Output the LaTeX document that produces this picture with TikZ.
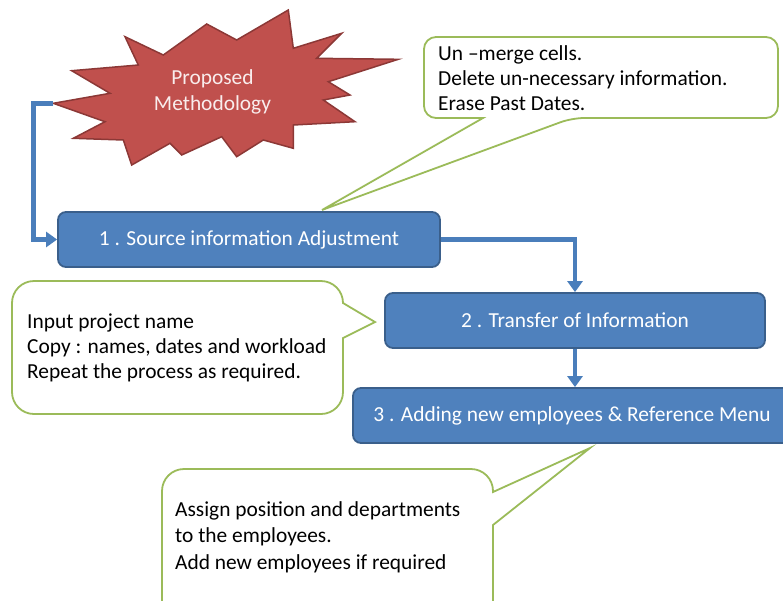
\documentclass[tikz,border=0pt]{standalone}
\usepackage{fontspec}
\setmainfont{Carlito}
\usetikzlibrary{arrows.meta}
\definecolor{boxblue}{HTML}{4F81BD}
\definecolor{boxedge}{HTML}{3A5F8B}
\definecolor{linkblue}{HTML}{4A7EBB}
\definecolor{starred}{HTML}{C0504D}
\definecolor{staredge}{HTML}{8C3836}
\definecolor{notegreen}{HTML}{9BBB59}
\definecolor{startext}{HTML}{F9EDED}

\begin{document}
\begin{tikzpicture}[x=1pt,y=-1pt,
  stepbox/.style={draw=boxedge, line width=1.8pt, fill=boxblue, rounded corners=8pt,
    text=white, font=\fontsize{21.4}{25}\selectfont, inner sep=0pt, minimum height=55pt},
  link/.style={draw=linkblue, line width=4.5pt, -{Triangle[width=15pt,length=11pt]}},
  note/.style={draw=notegreen, line width=1.8pt, fill=white},
  notetext/.style={anchor=west, align=left, inner sep=0pt, font=\fontsize{21.4}{25}\selectfont},
  burst/.style={draw=staredge, line width=1.5pt, fill=starred, line join=miter}]

\useasboundingbox (0,0) rectangle (783,600);
\clip (0,0) rectangle (783,600);

% explosion shape
\draw[burst] (53.3,103.3) -- (110,93.3) -- (71.7,70.7) -- (138.3,65) -- (125,36.7)
  -- (163.3,55) -- (206.7,24) -- (236.7,40) -- (288.3,10) -- (293.3,48.3)
  -- (341.7,33.3) -- (316.7,58.3) -- (398.3,59.3) -- (328.3,81.7) -- (350,95)
  -- (323.3,100) -- (355,121.7) -- (293.3,125) -- (293.3,148.3) -- (263.3,140)
  -- (236.7,156.7) -- (221.7,136.7) -- (181.7,155) -- (170,143.3) -- (131.7,165)
  -- (123.3,140) -- (73.3,138.3) -- (105,121.7) -- cycle;
\coordinate (startip) at (53.3,103.3);
\node[align=center, text=startext, inner sep=0pt, font=\fontsize{21.4}{26}\selectfont]
  (star) at (212.5,92) {Proposed\\Methodology};

% process steps
\node[stepbox, minimum width=382pt] (box1) at (249,239.5) {1 . Source information Adjustment};
\node[stepbox, minimum width=380pt] (box2) at (575,320.5) {2 . Transfer of Information};
\node[stepbox, minimum width=438pt] (box3) at (572,415.5) {3 . Adding new employees \& Reference Menu};

% flow connectors
\draw[link] (startip) -- ++(-20,0) |- (box1.west);
\draw[link] (box1.east) -| (box2.north);
\draw[link] (box2.south) -- (box2.south |- box3.north);

% note callouts
\coordinate (tipA) at (322,210);
\coordinate (tipB) at (375,322);
\coordinate (tipC) at (590,448);

\draw[note] (424,80) [rounded corners=12pt] -- (424,37) -- (778,37) -- (778,118)
  -- (572,118) [sharp corners] -- (tipA) -- (483,118) [rounded corners=12pt]
  -- (424,118) -- cycle;
\node[notetext] (noteA) at (438,78)
  {Un --merge cells.\\Delete un-necessary information.\\Erase Past Dates.};

\draw[note] (12,330) [rounded corners=22pt] -- (12,281) -- (343,281) [sharp corners]
  -- (343,303) -- (tipB) -- (343,338) [rounded corners=22pt] -- (343,414)
  -- (12,414) -- cycle;
\node[notetext] (noteB) at (27,348)
  {Input project name\\Copy : names, dates and workload\\Repeat the process as required.};

\draw[note] (162,540) [rounded corners=22pt] -- (162,469) -- (493,469) [sharp corners]
  -- (493,492) -- (tipC) -- (493,525) [rounded corners=22pt] -- (493,640)
  -- (162,640) -- cycle;
\node[notetext, font=\fontsize{21.4}{26.5}\selectfont] (noteC) at (175,537)
  {Assign position and departments\\to the employees.\\Add new employees if required};

\end{tikzpicture}
\end{document}
